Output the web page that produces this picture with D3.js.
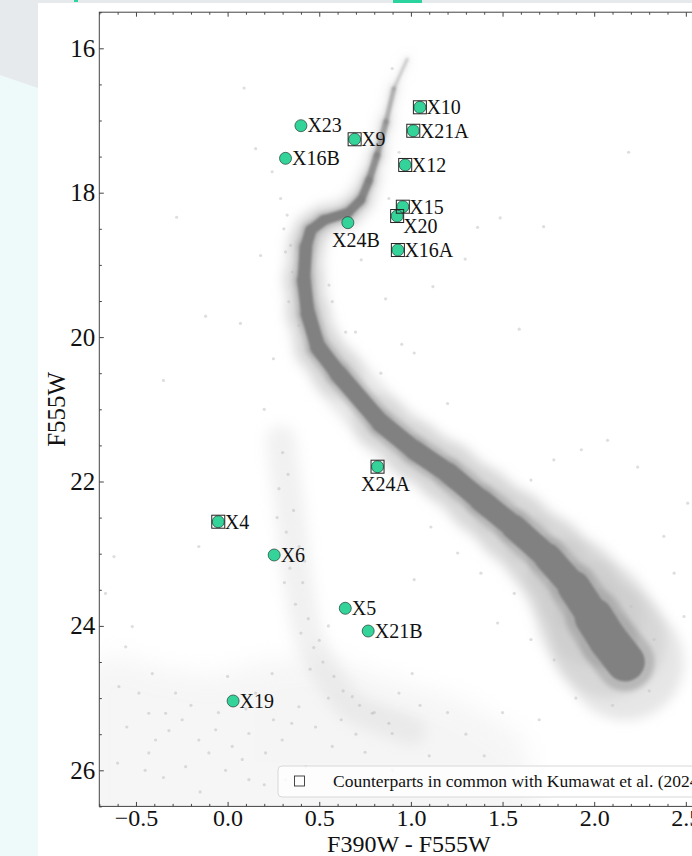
<!DOCTYPE html>
<html>
<head>
<meta charset="utf-8">
<script src="https://cdn.jsdelivr.net/npm/d3@7"></script>
<style>
  body { margin: 0; background: #fff; }
  svg { display: block; }
  text { font-family: "Liberation Serif", "DejaVu Serif", serif; fill: #111; }
</style>
</head>
<body>
<svg id="chart" width="692" height="856"></svg>
<script>
// X-ray counterparts (colour F390W-F555W, magnitude F555W)
var srcNames = ["X4", "X5", "X6", "X9", "X10", "X12", "X15", "X16A", "X16B", "X19", "X20", "X21A", "X21B", "X23", "X24A", "X24B"];
var srcColor = [-0.051, 0.642, 0.254, 0.693, 1.049, 0.969, 0.956, 0.929, 0.316, 0.030, 0.925, 1.013, 0.767, 0.400, 0.818, 0.656];
var srcMag   = [22.557, 23.756, 23.018, 17.260, 16.817, 17.616, 18.194, 18.794, 17.524, 25.040, 18.323, 17.142, 24.071, 17.072, 21.795, 18.415];
// counterparts also found by Kumawat et al. (2024)
var commonSrc = ["X4", "X9", "X10", "X12", "X15", "X16A", "X20", "X21A", "X24A"];

// cluster sequence ridge line, with its colour spread and relative density
var ridgeColor   = [0.98, 0.907, 0.864, 0.815, 0.771, 0.727, 0.656, 0.525, 0.454, 0.427, 0.416, 0.438, 0.493, 0.602, 0.836, 1.016, 1.202, 1.382, 1.562, 1.747, 1.889, 1.998, 2.075, 2.17];
var ridgeMag     = [16.15, 16.56, 17.02, 17.48, 17.83, 18.10, 18.28, 18.38, 18.52, 18.75, 19.21, 19.67, 20.14, 20.50, 21.19, 21.56, 21.88, 22.26, 22.63, 23.05, 23.46, 23.88, 24.19, 24.50];
var ridgeSpread  = [0.012, 0.022, 0.028, 0.034, 0.04, 0.046, 0.052, 0.054, 0.058, 0.066, 0.072, 0.078, 0.084, 0.092, 0.1, 0.105, 0.11, 0.118, 0.13, 0.142, 0.16, 0.195, 0.225, 0.2];
var ridgeDensity = [0.2, 0.4, 0.55, 0.7, 0.85, 0.95, 1, 1, 1, 1, 1, 1, 1, 1, 1, 1, 1, 1, 1, 1, 1, 1, 1, 1];

// faint secondary sequence on the blue side
var secColor = [0.29, 0.31, 0.334, 0.353, 0.371, 0.398, 0.426, 0.48, 0.553, 0.68, 0.843, 1.0];
var secMag   = [21.43, 21.84, 22.26, 22.67, 23.13, 23.60, 24.01, 24.38, 24.70, 25.12, 25.30, 25.45];

// outline of the faint field cloud at the bottom left
var cloudColor = [-0.8, -0.6, -0.35, -0.1, 0.2, 0.5, 0.85, 1.25, 1.6, 1.75, -0.8];
var cloudMag   = [24.6, 24.4, 24.6, 24.7, 24.5, 24.4, 24.7, 25.0, 25.5, 26.9, 26.9];

// scattered field stars [colour, magnitude]
var fieldStars = [
  [0.09, 16.55], [0.153, 17.39], [-0.278, 18.34], [0.18, 18.87], [-0.12, 19.71], [0.07, 19.81],
  [0.243, 17.71], [0.289, 18.08], [0.325, 18.31], [0.307, 18.50], [0.344, 18.73], [0.389, 19.28],
  [0.571, 19.51], [0.644, 19.93], [0.553, 19.28], [0.898, 16.28], [0.935, 17.44], [0.88, 18.08],
  [0.862, 19.47], [0.698, 19.93], [0.316, 18.82], [0.353, 19.10], [0.334, 19.51], [0.389, 19.84],
  [2.188, 17.44], [1.487, 18.35], [1.364, 18.48], [1.724, 18.47], [1.296, 18.92], [1.591, 19.89],
  [0.729, 18.93], [1.12, 19.3], [0.95, 20.1], [0.25, 20.3], [0.2, 21.0], [-0.35, 20.6],
  [-0.62, 23.04], [-0.52, 24.01], [-0.556, 24.29], [-0.484, 24.93], [-0.411, 24.66], [-0.338, 25.21],
  [-0.248, 25.30], [-0.157, 25.58], [-0.065, 25.44], [-0.102, 25.76], [0.025, 25.67], [0.116, 25.49],
  [0.207, 25.76], [0.298, 25.58], [-0.011, 26.0], [-0.229, 25.95], [-0.393, 25.58], [-0.284, 24.93],
  [-0.43, 25.21], [-0.593, 24.84], [-0.666, 23.55], [-0.157, 22.90], [0.243, 24.66], [0.153, 24.93],
  [0.389, 25.12], [0.48, 25.40], [0.571, 25.67], [0.68, 24.98], [0.789, 25.21], [0.898, 25.49],
  [0.935, 24.93], [1.007, 24.66], [0.426, 25.95], [0.316, 26.13], [0.116, 26.13], [-0.43, 25.76],
  [-0.2, 25.1], [-0.05, 25.2], [0.08, 25.85], [-0.32, 25.45], [0.6, 26.1], [0.75, 25.75],
  [2.073, 21.43], [2.237, 21.80], [2.51, 22.30], [2.38, 22.76], [2.436, 23.27], [2.49, 23.87],
  [1.78, 21.70], [1.655, 21.98], [1.93, 21.56], [1.2, 20.92], [1.018, 20.22], [0.836, 20.50],
  [1.255, 22.99], [1.382, 23.27], [1.564, 23.55], [1.109, 22.63], [1.018, 23.36], [1.473, 23.96],
  [1.655, 24.19], [1.782, 24.47], [2.255, 24.43], [2.327, 24.19], [2.2, 23.73],
  [1.9, 25.0], [2.1, 25.1], [2.3, 24.9], [1.7, 25.3], [1.5, 25.2], [1.3, 25.5], [1.1, 25.8], [0.9, 26.0],
  [0.30, 21.6], [0.33, 21.9], [0.28, 22.1], [0.36, 22.4], [0.32, 22.7], [0.39, 22.9], [0.34, 23.2],
  [0.41, 23.4], [0.37, 23.7], [0.44, 23.9], [0.40, 24.1], [0.47, 24.3], [0.52, 24.5], [0.58, 24.7],
  [0.63, 24.9], [0.72, 25.1], [0.80, 25.2], [0.88, 25.35], [0.5, 24.2], [0.45, 24.6], [0.27, 22.5],
  [0.42, 23.1], [0.31, 23.4], [0.55, 24.0], [0.62, 25.3], [0.7, 25.5],
  [-0.55, 25.4], [-0.6, 25.9], [-0.35, 26.1], [-0.15, 26.3], [0.2, 26.2], [0.35, 25.35], [0.1, 25.15],
  [-0.45, 26.0], [0.0, 24.7], [0.25, 25.3], [1.2, 25.2], [1.4, 25.8], [1.05, 25.1], [0.55, 25.0]
];

var xTicks = [-0.5, 0.0, 0.5, 1.0, 1.5, 2.0, 2.5];
var yTicks = [16, 18, 20, 22, 24, 26];

var svg = d3.select("#chart");

// page behind the figure
svg.append("rect").attr("width", 692).attr("height", 856).attr("fill", "#eef9fa");
svg.append("path").attr("d", "M0,0H692V3H38V88L0,75Z").attr("fill", "#e6eaec");
svg.append("rect").attr("x", 393).attr("y", 0).attr("width", 29).attr("height", 3).attr("fill", "#2bd49f");
svg.append("rect").attr("x", 74).attr("y", 0).attr("width", 4).attr("height", 2).attr("fill", "#2bd49f");
svg.append("rect").attr("x", 38).attr("y", 3).attr("width", 654).attr("height", 853).attr("fill", "#fff");

var plotL = 99.3, plotR = 722.5, plotT = 12.2, plotB = 806.4;
var x = d3.scaleLinear().domain([-0.7, 2.7]).range([plotL, plotR]);
var y = d3.scaleLinear().domain([15.5, 26.5]).range([plotT, plotB]);
var pxPerColor = x(1) - x(0);

var defs = svg.append("defs");
defs.append("clipPath").attr("id", "plotclip")
  .append("rect").attr("x", plotL).attr("y", plotT).attr("width", plotR - plotL).attr("height", plotB - plotT);
function blur(id, sd) {
  defs.append("filter").attr("id", id)
    .attr("filterUnits", "userSpaceOnUse").attr("x", 0).attr("y", 0).attr("width", 800).attr("height", 900)
    .append("feGaussianBlur").attr("stdDeviation", sd);
}
blur("b10", 12);
blur("b6", 6);
blur("b3", 2.5);
blur("b1", 0.9);
blur("b5", 7);

var plot = svg.append("g").attr("clip-path", "url(#plotclip)");

// faint field cloud at the bottom left
var cloudPts = cloudColor.map((c, i) => [c, cloudMag[i]]);
plot.append("path")
  .attr("d", d3.line().x(d => x(d[0])).y(d => y(d[1])).curve(d3.curveLinearClosed)(cloudPts))
  .attr("fill", "#e8e8e8").attr("opacity", 0.4).attr("filter", "url(#b10)");

// secondary sequence haze
var secPts = secColor.map((c, i) => [c, secMag[i]]);
plot.append("path")
  .attr("d", d3.line().x(d => x(d[0])).y(d => y(d[1])).curve(d3.curveCatmullRom)(secPts))
  .attr("fill", "none").attr("stroke", "#d0d0d0").attr("stroke-width", 30)
  .attr("stroke-linecap", "round").attr("opacity", 0.3).attr("filter", "url(#b5)");

// field stars
plot.append("g").selectAll("circle").data(fieldStars).join("circle")
  .attr("cx", d => x(d[0])).attr("cy", d => y(d[1])).attr("r", 1.6)
  .attr("fill", "#b5b5b5").attr("opacity", 0.45);

// main sequence band drawn in three layers
var segs = d3.range(ridgeColor.length - 1).map(i => ({
  x1: x(ridgeColor[i]), y1: y(ridgeMag[i]),
  x2: x(ridgeColor[i + 1]), y2: y(ridgeMag[i + 1]),
  w: (ridgeSpread[i] + ridgeSpread[i + 1]) / 2 * pxPerColor,
  a: (ridgeDensity[i] + ridgeDensity[i + 1]) / 2
}));
function band(color, k, op, filt) {
  plot.append("g").attr("filter", "url(#" + filt + ")")
    .selectAll("line").data(segs).join("line")
    .attr("x1", d => d.x1).attr("y1", d => d.y1).attr("x2", d => d.x2).attr("y2", d => d.y2)
    .attr("stroke", color).attr("stroke-opacity", d => op * d.a)
    .attr("stroke-width", d => d.w * k).attr("stroke-linecap", "round");
}
band("#c4c4c4", 3.0, 0.42, "b6");
band("#a9a9a9", 1.5, 0.7, "b3");
band("#818181", 1.0, 1, "b1");

// counterparts
var srcs = srcNames.map((n, i) => ({ name: n, c: srcColor[i], m: srcMag[i], common: commonSrc.indexOf(n) >= 0 }));
var labelPlace = { X20: "lowright", X24A: "below", X24B: "below" };

var mk = svg.append("g");
mk.selectAll("circle").data(srcs).join("circle")
  .attr("cx", d => x(d.c)).attr("cy", d => y(d.m)).attr("r", 6)
  .attr("fill", "#34d399").attr("stroke", "#1f3d33").attr("stroke-width", 0.7);
mk.selectAll("rect").data(srcs.filter(d => d.common)).join("rect")
  .attr("x", d => x(d.c) - 6.5).attr("y", d => y(d.m) - 6.5).attr("width", 13).attr("height", 13)
  .attr("fill", "none").attr("stroke", "#222").attr("stroke-width", 1);
mk.selectAll("text").data(srcs).join("text")
  .attr("font-size", 20)
  .attr("text-anchor", d => labelPlace[d.name] === "below" ? "middle" : "start")
  .attr("x", d => {
    var p = labelPlace[d.name];
    return x(d.c) + (p === "below" ? 8 : p === "lowright" ? 6 : 6.5);
  })
  .attr("y", d => {
    var p = labelPlace[d.name];
    return y(d.m) + (p === "below" ? 24 : p === "lowright" ? 17 : 6.8);
  })
  .text(d => d.name);

// axes, ticks pointing inwards on all four sides
var xMinor = d3.range(-7, 28).map(d => d / 10).filter(d => Math.abs(d * 2 - Math.round(d * 2)) > 1e-6);
var yMinor = d3.range(31, 54).map(d => d / 2).filter(d => d % 2 !== 0);
var fmt = d3.format(".1f");

function styleAxis(g, fs) {
  g.select(".domain").remove();
  g.selectAll("line").attr("stroke", "#444");
  g.attr("font-size", fs).attr("font-family", null);
  g.selectAll("text").attr("fill", "#111");
}
svg.append("g").attr("transform", "translate(0," + plotB + ")")
  .call(d3.axisBottom(x).tickValues(xTicks).tickFormat(fmt).tickSize(-4.5).tickPadding(3).tickSizeOuter(0))
  .call(g => styleAxis(g, 24));
svg.append("g").attr("transform", "translate(0," + plotB + ")")
  .call(d3.axisBottom(x).tickValues(xMinor).tickFormat("").tickSize(-2.5).tickSizeOuter(0))
  .call(g => styleAxis(g, 24));
svg.append("g").attr("transform", "translate(0," + plotT + ")")
  .call(d3.axisTop(x).tickValues(xTicks).tickFormat("").tickSize(-4.5).tickSizeOuter(0))
  .call(g => styleAxis(g, 24));
svg.append("g").attr("transform", "translate(0," + plotT + ")")
  .call(d3.axisTop(x).tickValues(xMinor).tickFormat("").tickSize(-2.5).tickSizeOuter(0))
  .call(g => styleAxis(g, 24));
svg.append("g").attr("transform", "translate(" + plotL + ",0)")
  .call(d3.axisLeft(y).tickValues(yTicks).tickFormat(d3.format("d")).tickSize(-4.5).tickPadding(4).tickSizeOuter(0))
  .call(g => styleAxis(g, 25));
svg.append("g").attr("transform", "translate(" + plotL + ",0)")
  .call(d3.axisLeft(y).tickValues(yMinor).tickFormat("").tickSize(-2.5).tickSizeOuter(0))
  .call(g => styleAxis(g, 24));
svg.append("g").attr("transform", "translate(" + plotR + ",0)")
  .call(d3.axisRight(y).tickValues(yTicks).tickFormat("").tickSize(-4.5).tickSizeOuter(0))
  .call(g => styleAxis(g, 24));

svg.append("rect").attr("x", plotL).attr("y", plotT).attr("width", plotR - plotL).attr("height", plotB - plotT)
  .attr("fill", "none").attr("stroke", "#444").attr("stroke-width", 1);

svg.append("text").attr("x", (plotL + plotR) / 2 - 2).attr("y", 852)
  .attr("text-anchor", "middle").attr("font-size", 24).text("F390W - F555W");
svg.append("text").attr("transform", "translate(65," + ((plotT + plotB) / 2) + ") rotate(-90)")
  .attr("text-anchor", "middle").attr("font-size", 25).text("F555W");

// legend, lower right
var lg = svg.append("g").attr("transform", "translate(" + (plotR - 444.5) + ",766)");
lg.append("rect").attr("width", 440).attr("height", 31).attr("rx", 4)
  .attr("fill", "#fff").attr("fill-opacity", 0.8).attr("stroke", "#d8d8d8");
lg.append("rect").attr("x", 16.5).attr("y", 10).attr("width", 10).attr("height", 10)
  .attr("fill", "none").attr("stroke", "#333").attr("stroke-width", 0.9);
lg.append("text").attr("x", 55).attr("y", 21).attr("font-size", 17.5)
  .text("Counterparts in common with Kumawat et al. (2024)");
</script>
</body>
</html>
